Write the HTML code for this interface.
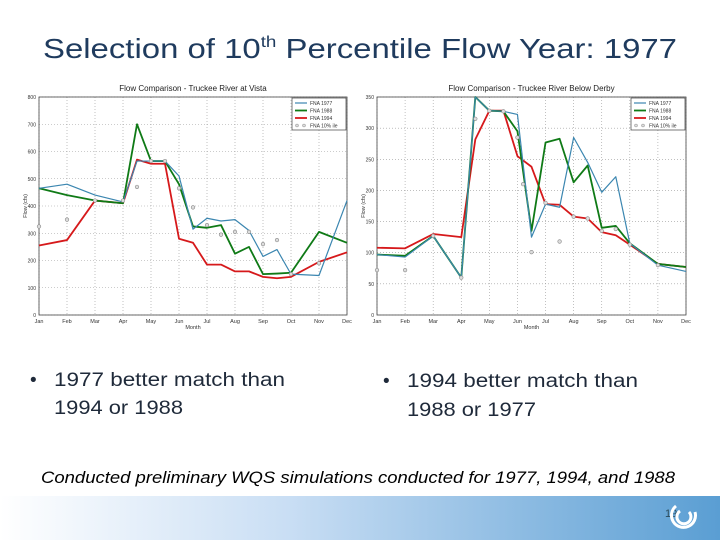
<!DOCTYPE html>
<html><head><meta charset="utf-8"><style>
html,body{margin:0;padding:0;background:#fff}
svg{display:block;font-family:"Liberation Sans",sans-serif}
</style></head><body>
<svg id="slide" width="720" height="540" viewBox="0 0 720 540">
<defs>
<linearGradient id="band" x1="0" x2="1" y1="0" y2="0">
<stop offset="0" stop-color="#ffffff"/><stop offset="0.4" stop-color="#c9def4"/><stop offset="1" stop-color="#5a9ed3"/>
</linearGradient>
</defs>
<text x="43" y="58" font-size="28" fill="#1f3b5e" textLength="634" lengthAdjust="spacingAndGlyphs">Selection of 10<tspan font-size="16" dy="-11">th</tspan><tspan dy="11"> Percentile Flow Year: 1977</tspan></text>
<g id="chartL"></g>
<g id="chartR"></g>
<g>
<text x="30" y="386" font-size="19" fill="#1f2a3a">•</text>
<text x="54" y="386" font-size="19" fill="#1f2a3a" textLength="231" lengthAdjust="spacingAndGlyphs">1977 better match than</text>
<text x="54" y="414" font-size="19" fill="#1f2a3a" textLength="129" lengthAdjust="spacingAndGlyphs">1994 or 1988</text>
</g>
<g>
<text x="383" y="387" font-size="19" fill="#1f2a3a">•</text>
<text x="407" y="387" font-size="19" fill="#1f2a3a" textLength="231" lengthAdjust="spacingAndGlyphs">1994 better match than</text>
<text x="407" y="416" font-size="19" fill="#1f2a3a" textLength="129" lengthAdjust="spacingAndGlyphs">1988 or 1977</text>
</g>
<text x="41" y="483" font-size="17" font-style="italic" fill="#000" textLength="634" lengthAdjust="spacingAndGlyphs">Conducted preliminary WQS simulations conducted for 1977, 1994, and 1988</text>
<rect x="0" y="496" width="720" height="44" fill="url(#band)"/>
<text x="665" y="517" font-size="11" fill="#2a4a5a">19</text>
<g fill="none" stroke="#fff" stroke-width="3">
<path d="M676 506 A12 12 0 1 0 695 512"/><path d="M680 511 A7 7 0 1 0 689 512"/>
</g>
</svg>
<script>
const months=["Jan","Feb","Mar","Apr","May","Jun","Jul","Aug","Sep","Oct","Nov","Dec"];
const legendLabels=["FNA 1977","FNA 1988","FNA 1994","FNA 10% ile"];
const vistaX=[0,1,2,3,3.5,4,4.5,5,5.5,6,6.5,7,7.5,8,8.5,9,10,11];
const vista1977=[465,480,440,415,565,565,565,510,315,355,345,350,310,215,240,150,145,420];
const vista1988=[465,440,420,410,700,565,565,480,325,320,330,225,250,150,152,155,305,265];
const vista1994=[255,275,420,410,570,555,555,280,265,185,185,160,160,140,135,140,195,230];
const vistaMarkX=[0,1,2,3,3.5,4,4.5,5,5.5,6,6.5,7,7.5,8,8.5,9,10];
const vistaMark=[325,350,420,420,470,565,565,465,395,330,295,305,305,260,275,150,190];
const vistaTicks=[0,100,200,300,400,500,600,700,800];
const derbyX=[0,1,2,3,3.5,4,4.5,5,5.5,6,6.5,7,7.5,8,8.5,9,10,11];
const derby1977=[97,93,127,60,350,328,327,322,125,178,173,285,245,197,222,115,80,70];
const derby1988=[97,95,127,60,350,328,327,295,135,277,283,213,240,140,143,115,82,77];
const derby1994=[108,107,130,125,282,328,328,255,238,178,177,158,155,133,128,113,82,77];
const derbyMarkX=[0,1,2,3,3.5,4,4.5,5,5.2,5.5,6,6.5,7,7.5,8,8.5,9,10];
const derbyMark=[72,72,127,60,315,328,327,285,210,101,180,118,158,155,135,138,113,80];
const derbyTicks=[0,50,100,150,200,250,300,350];
const NS="http://www.w3.org/2000/svg";
function mk(parent,tag,attrs){const e=document.createElementNS(NS,tag);for(const k in attrs)e.setAttribute(k,attrs[k]);parent.appendChild(e);return e;}
function chart(g,cfg){
  const {x0,x1,y0,y1,ymax,ticks,title,xs,s77,s88,s94,mx,mv}=cfg;
  const X=v=>x0+(x1-x0)*v/11, Y=v=>y1-(y1-y0)*v/ymax;
  const t=mk(g,'text',{x:(x0+x1)/2,y:y0-6,'font-size':8,'text-anchor':'middle',fill:'#222'});t.textContent=title;
  
  
  ticks.forEach(v=>{
    const l=mk(g,'line',{x1:x0,x2:x1,y1:Y(v),y2:Y(v),stroke:'#999','stroke-width':0.6,'stroke-dasharray':'1,2'});
    
    
    const tx=mk(g,'text',{x:x0-3,y:Y(v)+2,'font-size':5,'text-anchor':'end',fill:'#333'});tx.textContent=v;
    
    
  });
  months.forEach((m,i)=>{
    const l=mk(g,'line',{x1:X(i),x2:X(i),y1:y0,y2:y1,stroke:'#999','stroke-width':0.6,'stroke-dasharray':'1,2'});
    
    
    const tx=mk(g,'text',{x:X(i),y:y1+8,'font-size':5.5,'text-anchor':'middle',fill:'#333'});tx.textContent=m;
    
    
  });
  const fr=mk(g,'rect',{x:x0,y:y0,width:x1-x0,height:y1-y0,fill:'none',stroke:'#444','stroke-width':0.8});
  
  
  const xl=mk(g,'text',{x:(x0+x1)/2,y:y1+14,'font-size':5.5,'text-anchor':'middle',fill:'#333'});xl.textContent='Month';
  
  
  const yl=mk(g,'text',{x:0,y:0,'font-size':5.5,'text-anchor':'middle',fill:'#333',transform:`translate(${x0-12},${(y0+y1)/2}) rotate(-90)`});yl.textContent='Flow (cfs)';
  
  
  const series=[[s77,'#3b86b0',1.2,'series-1977'],[s88,'#0f7a16',1.8,'series-1988'],[s94,'#d6191b',1.8,'series-1994']];
  [series[2],series[1],series[0]].forEach(([vals,c,w,n])=>{
    const p=mk(g,'polyline',{points:vals.map((v,i)=>X(xs[i])+','+Y(v)).join(' '),fill:'none',stroke:c,'stroke-width':w,'stroke-linejoin':'round'});
    
    
  });
  mv.forEach((v,i)=>{
    const c=mk(g,'circle',{cx:X(mx[i]),cy:Y(v),r:1.8,fill:'#ddd',stroke:'#888','stroke-width':0.6});
    
    
  });
  const lx=x1-55, ly=y0+1;
  const lb=mk(g,'rect',{x:lx,y:ly,width:54,height:32,fill:'#fff',stroke:'#222','stroke-width':0.6});
  
  
  legendLabels.forEach((lab,i)=>{
    const yy=ly+5+i*7.5;
    if(i<3){const l=mk(g,'line',{x1:lx+3,x2:lx+15,y1:yy,y2:yy,stroke:series[i][1],'stroke-width':series[i][2]});
      
      }
    else{[lx+5,lx+12].forEach(cx=>{const c=mk(g,'circle',{cx:cx,cy:yy,r:1.5,fill:'#ddd',stroke:'#888','stroke-width':0.5});
      
      });}
    const tx=mk(g,'text',{x:lx+18,y:yy+2,'font-size':5,fill:'#333'});tx.textContent=lab;
    
    
  });
}
chart(document.getElementById('chartL'),{x0:39,x1:347,y0:97,y1:315,ymax:800,ticks:vistaTicks,title:'Flow Comparison - Truckee River at Vista',xs:vistaX,s77:vista1977,s88:vista1988,s94:vista1994,mx:vistaMarkX,mv:vistaMark});
chart(document.getElementById('chartR'),{x0:377,x1:686,y0:97,y1:315,ymax:350,ticks:derbyTicks,title:'Flow Comparison - Truckee River Below Derby',xs:derbyX,s77:derby1977,s88:derby1988,s94:derby1994,mx:derbyMarkX,mv:derbyMark});
</script>
</body></html>
